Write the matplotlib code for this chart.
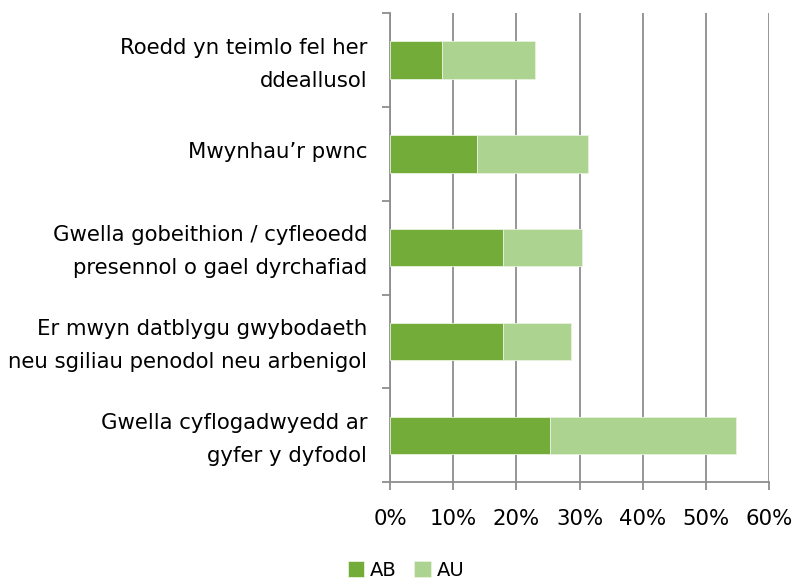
import numpy as np
import matplotlib.pyplot as plt
from matplotlib.ticker import FixedLocator, PercentFormatter
from matplotlib.transforms import ScaledTranslation

# categories listed from bottom to top
categories = [
    "Gwella cyflogadwyedd ar\ngyfer y dyfodol",
    "Er mwyn datblygu gwybodaeth\nneu sgiliau penodol neu arbenigol",
    "Gwella gobeithion / cyfleoedd\npresennol o gael dyrchafiad",
    "Mwynhau\u2019r pwnc",
    "Roedd yn teimlo fel her\nddeallusol",
]
ab_values = [25.3, 17.9, 17.9, 13.8, 8.3]
au_values = [29.4, 10.7, 12.5, 17.5, 14.7]
x_ticks = [0, 10, 20, 30, 40, 50, 60]

ab_color = "#74ac3a"
au_color = "#acd490"
grid_color = "#8e8e8e"

plt.rcParams['font.family'] = ['DejaVu Sans']

fig = plt.figure(figsize=(7.93, 5.81), dpi=100)
ax = fig.add_axes([390 / 793, 1 - 482.3 / 581, (769.3 - 390) / 793, (482.3 - 13) / 581])

y = np.arange(len(categories))
ax.barh(y, ab_values, height=0.4, color=ab_color, edgecolor="#e8f2de", linewidth=0.6, label="AB", zorder=3)
ax.barh(y, au_values, left=ab_values, height=0.4, color=au_color, edgecolor="#e8f2de", linewidth=0.6, label="AU", zorder=3)

ax.set_xlim(0, 60)
ax.set_ylim(-0.5, len(categories) - 0.5)

ax.xaxis.set_major_locator(FixedLocator(x_ticks))
ax.xaxis.set_major_formatter(PercentFormatter(decimals=0))
ax.grid(axis="x", color=grid_color, linewidth=1.3, zorder=0)
ax.set_axisbelow(True)

# category labels between boundary ticks
ax.set_yticks(np.arange(-0.5, len(categories), 1.0))
ax.set_yticklabels([])
ax.set_yticks(y, minor=True)
ax.set_yticklabels(categories, minor=True, fontsize=15.3, linespacing=1.8, ha="right")
ax.tick_params(axis="y", which="minor", length=0, pad=16.5)
ax.tick_params(axis="y", which="major", length=6, width=1.3, color=grid_color)
ax.tick_params(axis="x", length=6, width=1.3, color=grid_color, labelsize=15.3, pad=13)

# nudge category labels up a little
shift = ScaledTranslation(0, 3 / 72, fig.dpi_scale_trans)
for lbl in ax.get_yticklabels(minor=True):
    lbl.set_transform(lbl.get_transform() + shift)

for side in ["top", "right"]:
    ax.spines[side].set_visible(False)
for side in ["left", "bottom"]:
    ax.spines[side].set_color(grid_color)
    ax.spines[side].set_linewidth(1.3)

fig.legend(loc="center", bbox_to_anchor=(406 / 793, 1 - 570 / 581), ncol=2, frameon=False,
           fontsize=14, handlelength=0.85, handleheight=0.85, handletextpad=0.3, columnspacing=0.9)

fig.savefig("out.png", dpi=100, facecolor="white")
